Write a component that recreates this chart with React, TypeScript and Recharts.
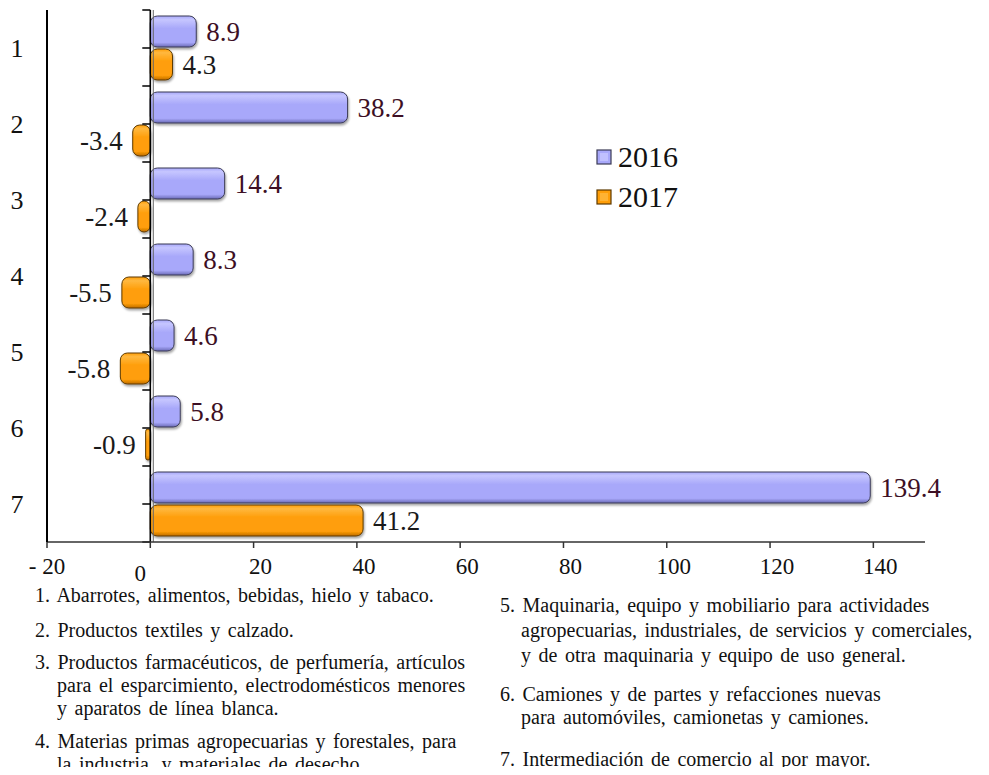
import React from "react"
import {
  BarChart,
  Bar,
  XAxis,
  YAxis,
  Legend,
  LabelList,
  ReferenceLine,
} from "recharts"

const categories = ["1", "2", "3", "4", "5", "6", "7"]
const values2016 = [8.9, 38.2, 14.4, 8.3, 4.6, 5.8, 139.4]
const values2017 = [4.3, -3.4, -2.4, -5.5, -5.8, -0.9, 41.2]
const xTicks = [-20, 0, 20, 40, 60, 80, 100, 120, 140]

const notesLeft = [
  { text: "1. Abarrotes, alimentos, bebidas, hielo y tabaco.", indent: false, top: 596 },
  { text: "2. Productos textiles y calzado.", indent: false, top: 631 },
  { text: "3. Productos farmacéuticos, de perfumería, artículos", indent: false, top: 663 },
  { text: "para el esparcimiento, electrodomésticos menores", indent: true, top: 686 },
  { text: "y aparatos de línea blanca.", indent: true, top: 709 },
  { text: "4. Materias primas agropecuarias y forestales, para", indent: false, top: 742 },
  { text: "la industria, y materiales de desecho.", indent: true, top: 765 },
]

const notesRight = [
  { text: "5. Maquinaria, equipo y mobiliario para actividades", indent: false, top: 606 },
  { text: "agropecuarias, industriales, de servicios y comerciales,", indent: true, top: 631 },
  { text: "y de otra maquinaria y equipo de uso general.", indent: true, top: 656 },
  { text: "6. Camiones y de partes y refacciones nuevas", indent: false, top: 695 },
  { text: "para automóviles, camionetas y camiones.", indent: true, top: 718 },
  { text: "7. Intermediación de comercio al por mayor.", indent: false, top: 760 },
]

const data = categories.map((name, i) => ({
  name,
  y2016: values2016[i],
  y2017: values2017[i],
}))

const SERIF = "'Liberation Serif', 'Times New Roman', serif"

const colors = {
  "2016": { light: "#c6c6ff", mid: "#a8a8fa", dark: "#6a6ab6", stroke: "#3b3b55" },
  "2017": { light: "#ffb83f", mid: "#ff9e08", dark: "#bf6c00", stroke: "#5e3a00" },
}

function YTick({ x, y, payload }: any) {
  return (
    <text x={x - 22} y={y} textAnchor="middle" dominantBaseline="central"
      fontFamily={SERIF} fontSize={26} fill="#111">
      {payload.value}
    </text>
  )
}

function XTick({ x, y, payload }: any) {
  const v = payload.value
  let dx = 7
  let dy = 24
  let label = String(v)
  if (v === 0) { dx = -10; dy = 31 }
  if (v < 0) { dx = 0; label = "- " + Math.abs(v) }
  return (
    <text x={x + dx} y={y + dy} textAnchor="middle" fontFamily={SERIF} fontSize={23} fill="#111">
      {label}
    </text>
  )
}

const makeLabel = (color: string) => (props: any) => {
  const { x, y, width, height, value } = props
  const left = Math.min(x, x + width)
  const right = Math.max(x, x + width)
  const neg = value < 0
  return (
    <text
      x={neg ? left - 10 : right + 10}
      y={y + height / 2}
      textAnchor={neg ? "end" : "start"}
      dominantBaseline="central"
      fontFamily={SERIF}
      fontSize={27}
      fill={color}
    >
      {Number(value).toFixed(1)}
    </text>
  )
}

// zero line with little ticks at every half category, like the original
function ZeroAxis(props: any) {
  const { x1, y1, y2 } = props
  const top = Math.min(y1, y2)
  const bottom = Math.max(y1, y2)
  const n = categories.length * 2
  const step = (bottom - top) / n
  const ticks = []
  for (let i = 0; i <= n; i++) {
    ticks.push(<line key={i} x1={x1 - 8} x2={x1} y1={top + i * step} y2={top + i * step} stroke="#000" strokeWidth={1.5} />)
  }
  return (
    <g>
      <line x1={x1} x2={x1} y1={top} y2={bottom} stroke="#000" strokeWidth={1.6} />
      <line x1={x1 + 3} x2={x1 + 3} y1={top} y2={bottom} stroke="#666" strokeWidth={1} />
      {ticks}
    </g>
  )
}

function LegendBox({ payload }: any) {
  return (
    <div style={{ fontFamily: SERIF }}>
      {(payload || []).map((p: any) => {
        const c = colors[p.value as "2016" | "2017"]
        return (
          <div key={p.value} style={{ display: "flex", alignItems: "center", height: 40 }}>
            <svg width={16} height={16} style={{ marginRight: 6 }}>
              <rect x={1} y={1} width={14} height={14} fill={c.mid} stroke={c.stroke} strokeWidth={1.2} />
              <rect x={4} y={4} width={8} height={8} fill={c.light} opacity={0.8} />
            </svg>
            <span style={{ fontSize: 30, color: "#111", lineHeight: "40px" }}>{p.value}</span>
          </div>
        )
      })}
    </div>
  )
}

function Notes({ items, left, indentLeft }: { items: typeof notesLeft; left: number; indentLeft: number }) {
  return (
    <>
      {items.map((n) => (
        <div
          key={n.text}
          style={{
            position: "absolute",
            left: n.indent ? indentLeft : left,
            top: n.top - 13,
            fontFamily: SERIF,
            fontSize: 20,
            wordSpacing: 2.5,
            lineHeight: "24px",
            color: "#111",
            whiteSpace: "nowrap",
          }}
        >
          {n.text}
        </div>
      ))}
    </>
  )
}

export default function App() {
  return (
    <div style={{ position: "relative", width: 989, height: 775, margin: -8, background: "#fff", overflow: "hidden" }}>
      <BarChart
        width={989}
        height={585}
        data={data}
        layout="vertical"
        margin={{ top: 10, right: 64, bottom: 3, left: 8 }}
        barCategoryGap={6}
        barGap={2}
      >
        <defs>
          {(["2016", "2017"] as const).map((k) => (
            <linearGradient key={k} id={`grad${k}`} x1="0" y1="0" x2="0" y2="1">
              <stop offset="0%" stopColor={colors[k].mid} />
              <stop offset="12%" stopColor={colors[k].light} />
              <stop offset="40%" stopColor={colors[k].mid} />
              <stop offset="85%" stopColor={colors[k].mid} />
              <stop offset="100%" stopColor={colors[k].dark} />
            </linearGradient>
          ))}
          <filter id="barShadow" x="-10%" y="-20%" width="130%" height="160%">
            <feDropShadow dx="1" dy="2" stdDeviation="1.2" floodColor="#000" floodOpacity="0.35" />
          </filter>
        </defs>
        <XAxis
          type="number"
          domain={[-20, 150]}
          ticks={xTicks}
          height={40}
          axisLine={{ stroke: "#333", strokeWidth: 1.5 }}
          tickLine={{ stroke: "#333", strokeWidth: 1.5 }}
          tickSize={6}
          tick={<XTick />}
        />
        <YAxis
          type="category"
          dataKey="name"
          width={39}
          axisLine={{ stroke: "#000", strokeWidth: 2 }}
          tickLine={false}
          tick={<YTick />}
        />
        <Legend
          layout="vertical"
          align="center"
          verticalAlign="middle"
          content={<LegendBox />}
          wrapperStyle={{ position: "absolute", left: 596, top: 137, width: 120 }}
        />
        <Bar dataKey="y2016" name="2016" fill="url(#grad2016)" stroke={colors["2016"].stroke}
          strokeWidth={1} radius={7} filter="url(#barShadow)" isAnimationActive={false}>
          <LabelList dataKey="y2016" content={makeLabel("#3d0f24")} />
        </Bar>
        <Bar dataKey="y2017" name="2017" fill="url(#grad2017)" stroke={colors["2017"].stroke}
          strokeWidth={1} radius={7} filter="url(#barShadow)" isAnimationActive={false}>
          <LabelList dataKey="y2017" content={makeLabel("#1a1a1a")} />
        </Bar>
        <ReferenceLine x={0} shape={<ZeroAxis />} />
      </BarChart>
      <Notes items={notesLeft} left={35} indentLeft={57} />
      <Notes items={notesRight} left={500} indentLeft={521} />
    </div>
  )
}
